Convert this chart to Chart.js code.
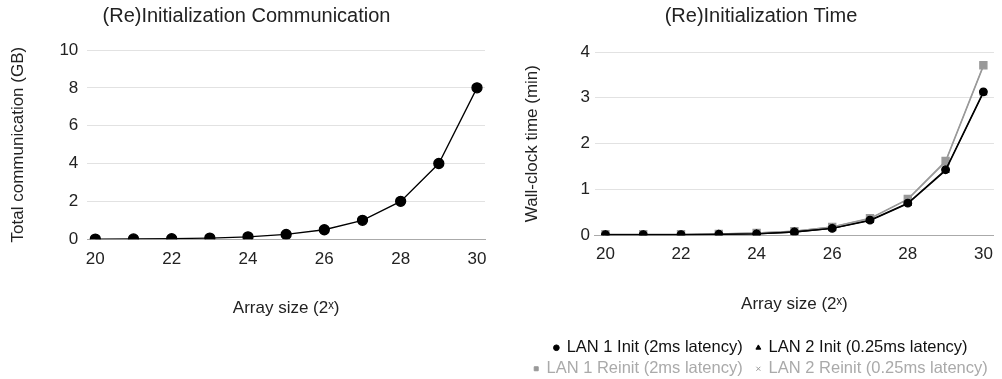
<!DOCTYPE html>
<html>
<head>
<meta charset="UTF-8">
<title>(Re)Initialization</title>
<style>
    body { margin: 0; background: #fff; }
    .wrap { display: flex; width: 1002px; height: 379px; }
    .box { position: relative; height: 379px; }
    #left { width: 500px; }
    #right { width: 502px; }
</style>
<script src="https://cdn.jsdelivr.net/npm/chart.js"></script>
</head>
<body>
<div class="wrap">
    <div class="box" id="left"><canvas id="commChart"></canvas></div>
    <div class="box" id="right"><canvas id="timeChart"></canvas></div>
</div>
<script>
    // array sizes (exponent of 2)
    const sizes = [20, 21, 22, 23, 24, 25, 26, 27, 28, 29, 30];
    const xTicks = [20, 22, 24, 26, 28, 30];

    // total communication, GB
    const commGB = [0.008, 0.016, 0.03, 0.06, 0.125, 0.25, 0.5, 1, 2, 4, 8];

    // wall-clock time, minutes
    const lan1Init   = [0.01, 0.01, 0.01, 0.02, 0.03, 0.07, 0.15, 0.33, 0.70, 1.43, 3.13];
    const lan2Init   = [0.01, 0.01, 0.01, 0.02, 0.03, 0.07, 0.15, 0.32, 0.69, 1.41, 3.11];
    const lan1Reinit = [0.02, 0.02, 0.02, 0.03, 0.05, 0.09, 0.18, 0.37, 0.79, 1.62, 3.71];
    const lan2Reinit = [0.02, 0.02, 0.02, 0.03, 0.05, 0.09, 0.18, 0.36, 0.78, 1.60, 3.69];

    const FONT = "'Liberation Sans', Arial, sans-serif";
    Chart.defaults.font.family = FONT;
    Chart.defaults.color = '#222';
    Chart.defaults.animation = false;

    function pts(vals) {
        return sizes.map((s, i) => ({ x: s, y: vals[i] }));
    }

    function xScale(pad, tickPad, titlePad) {
        return {
            type: 'linear',
            min: 20 - pad,
            max: 30 + pad,
            afterBuildTicks: axis => { axis.ticks = xTicks.map(v => ({ value: v })); },
            grid: { display: false, drawTicks: false },
            border: { display: true, color: '#aaa', width: 1 },
            ticks: { color: '#222', font: { size: 17 }, padding: tickPad },
            title: {
                display: true,
                text: 'Array size (2\u02e3)',
                color: '#222',
                font: { size: 17 },
                padding: titlePad
            }
        };
    }

    function yScale(max, step, label, tickPad, titlePad) {
        return {
            min: 0,
            max: max,
            ticks: { stepSize: step, color: '#222', font: { size: 17 }, padding: tickPad },
            grid: {
                color: ctx => ctx.tick && ctx.tick.value === 0 ? '#aaa' : '#e2e2e2',
                drawTicks: false
            },
            border: { display: false },
            title: {
                display: true,
                text: label,
                color: '#222',
                font: { size: 17 },
                padding: { top: 0, bottom: titlePad }
            }
        };
    }

    function titleOpt(text, below) {
        return {
            display: true,
            text: text,
            color: '#222',
            font: { size: 20, weight: 'normal' },
            padding: { top: 4, bottom: below }
        };
    }

    new Chart(document.getElementById('commChart'), {
        type: 'line',
        data: {
            datasets: [{
                label: 'Total communication',
                data: pts(commGB),
                borderColor: '#000',
                backgroundColor: '#000',
                borderWidth: 1.3,
                pointRadius: 5,
                pointStyle: 'circle',
                tension: 0
            }]
        },
        options: {
            responsive: true,
            maintainAspectRatio: false,
            layout: { padding: { left: 8, right: 15, top: 0, bottom: 60 } },
            plugins: {
                legend: { display: false },
                title: titleOpt('(Re)Initialization Communication', 22),
                tooltip: { enabled: false }
            },
            scales: {
                x: xScale(0.21, 10, { top: 19, bottom: 0 }),
                y: yScale(10, 2, 'Total communication (GB)', 9, 22)
            }
        }
    });

    // trailing spaces widen the gap before the second item of each legend row
    const series = [
        { label: 'LAN 1 Init (2ms latency)  ', vals: lan1Init, color: '#000', style: 'circle', r: 3.8, text: '#111' },
        { label: 'LAN 2 Init (0.25ms latency)', vals: lan2Init, color: '#000', style: 'triangle', r: 3.5, text: '#111' },
        { label: 'LAN 1 Reinit (2ms latency)  ', vals: lan1Reinit, color: '#999', style: 'rect', r: 5, text: '#aaa' },
        { label: 'LAN 2 Reinit (0.25ms latency)', vals: lan2Reinit, color: '#999', style: 'crossRot', r: 3.5, text: '#aaa' }
    ];

    new Chart(document.getElementById('timeChart'), {
        type: 'line',
        data: {
            datasets: series.map(s => ({
                label: s.label.trim(),
                data: pts(s.vals),
                borderColor: s.color,
                backgroundColor: s.color,
                borderWidth: 1.3,
                pointRadius: s.r,
                pointStyle: s.style,
                tension: 0
            }))
        },
        options: {
            responsive: true,
            maintainAspectRatio: false,
            layout: { padding: { left: 22, right: 2, top: 0, bottom: -8 } },
            plugins: {
                title: titleOpt('(Re)Initialization Time', 24),
                tooltip: { enabled: false },
                legend: {
                    position: 'bottom',
                    labels: {
                        usePointStyle: true,
                        boxWidth: 4,
                        boxHeight: 4,
                        padding: 4.5,
                        font: { size: 16.5 },
                        generateLabels: chart => series.map((s, i) => ({
                            text: s.label,
                            fillStyle: s.color,
                            strokeStyle: s.color,
                            fontColor: s.text,
                            pointStyle: s.style,
                            lineWidth: 1,
                            hidden: false,
                            datasetIndex: i
                        }))
                    }
                }
            },
            scales: {
                x: xScale(0.28, 9, { top: 21, bottom: 20 }),
                y: yScale(4, 1, 'Wall-clock time (min)', 5, 33)
            }
        }
    });
</script>
</body>
</html>
